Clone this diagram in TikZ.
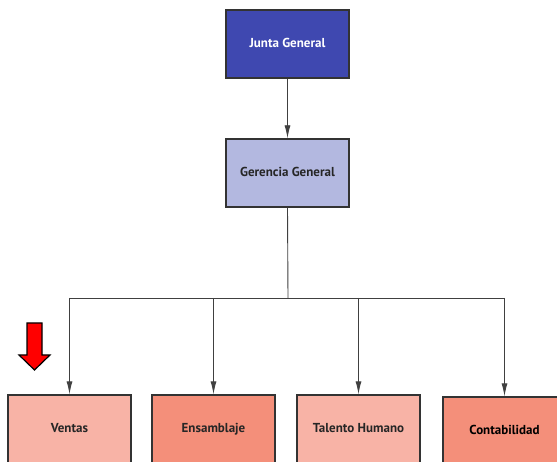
\documentclass[tikz,border=0pt]{standalone}
\usepackage{fontspec}
\setmainfont{PT Sans}
\usetikzlibrary{arrows.meta}
\definecolor{jblue}{HTML}{3F48B0}
\definecolor{gblue}{HTML}{B3B8E0}
\definecolor{lsalmon}{HTML}{F8B3A6}
\definecolor{dsalmon}{HTML}{F48F7A}
\definecolor{edge}{HTML}{333333}
\begin{document}
\begin{tikzpicture}[x=1pt,y=-1pt,
  box/.style={draw=edge, line width=1.4pt, minimum width=123pt, minimum height=68pt,
    inner sep=0pt, text height=9.5pt, text depth=3pt,
    font=\fontsize{13}{15}\selectfont\bfseries, text=black!85},
  conn/.style={draw=black!75, line width=0.9pt},
  arr/.style={conn, -{Latex[length=13pt,width=6pt]}}]
\clip (0,0) rectangle (557,462);
\fill[white] (0,0) rectangle (557,462);
\node[box, fill=jblue, text=white] (jg) at (287.5,44) {Junta General};
\node[box, fill=gblue] (gg) at (287.5,173) {Gerencia General};
\node[box, fill=lsalmon] (ve) at (69.5,429) {Ventas};
\node[box, fill=dsalmon] (en) at (213.5,429) {Ensamblaje};
\node[box, fill=lsalmon] (th) at (358.5,429) {Talento Humano};
\node[box, fill=dsalmon, text=black] (co) at (504.5,431) {Contabilidad};
\coordinate (hub) at (288,298);
\draw[arr] (jg) -- (gg);
\draw[conn] (gg.south) -- (hub);
\draw[conn] (ve.north |- hub) -- (co.north |- hub);
\draw[arr] (ve.north |- hub) -- (ve.north);
\draw[arr] (en.north |- hub) -- (en.north);
\draw[arr] (th.north |- hub) -- (th.north);
\draw[arr] (co.north |- hub) -- (co.north);
\fill[red, draw=black, line width=1.2pt, line join=miter]
  (27,323) -- (42,323) -- (42,355) -- (50,355) -- (34.5,370) -- (19,355) -- (27,355) -- cycle;
\end{tikzpicture}
\end{document}
